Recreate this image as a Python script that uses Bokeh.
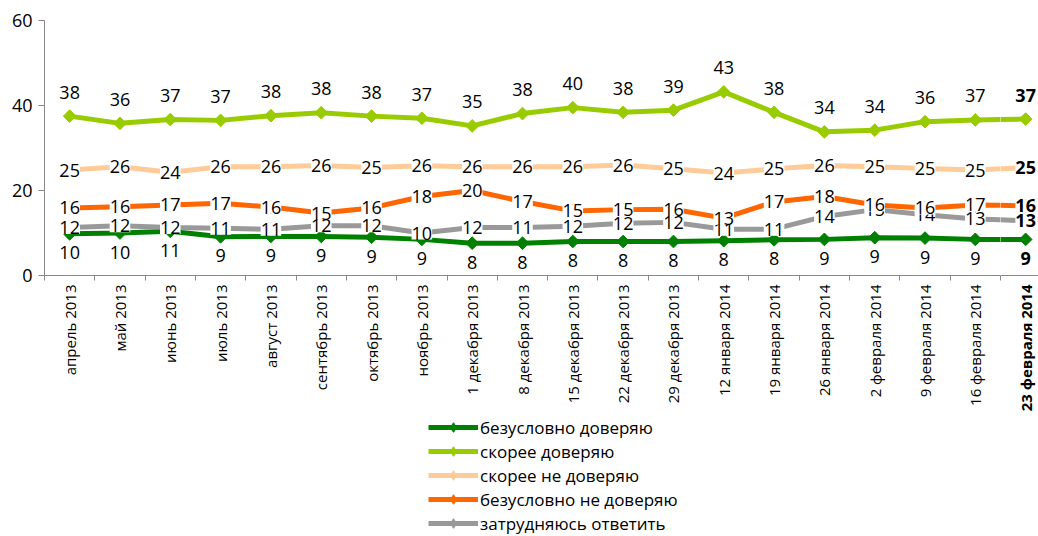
from math import pi
from bokeh.plotting import figure
from bokeh.layouts import column, row
from bokeh.models import FixedTicker, Range1d, Legend, LegendItem, ColumnDataSource
from bokeh.core.properties import value
from bokeh.embed import file_html
from bokeh.resources import INLINE

categories = ["апрель 2013", "май 2013", "июнь 2013", "июль 2013", "август 2013",
              "сентябрь 2013", "октябрь 2013", "ноябрь 2013", "1 декабря 2013",
              "8 декабря 2013", "15 декабря 2013", "22 декабря 2013", "29 декабря 2013",
              "12 января 2014", "19 января 2014", "26 января 2014", "2 февраля 2014",
              "9 февраля 2014", "16 февраля 2014", "23 февраля 2014"]

names = ["безусловно доверяю", "скорее доверяю", "скорее не доверяю",
         "безусловно не доверяю", "затрудняюсь ответить"]

s1_vals = [9.8, 10.0, 10.4, 9.1, 9.2, 9.2, 9.0, 8.5, 7.6, 7.6, 8.0, 8.0, 8.0, 8.2, 8.4, 8.5, 8.9, 8.8, 8.5, 8.5]
s1_labels = ["10", "10", "11", "9", "9", "9", "9", "9", "8", "8", "8", "8", "8", "8", "8", "9", "9", "9", "9", "9"]

s2_vals = [37.5, 35.8, 36.7, 36.5, 37.6, 38.3, 37.5, 37.0, 35.2, 38.1, 39.5, 38.4, 38.9, 43.2, 38.4, 33.8, 34.2, 36.2, 36.6, 36.8]
s2_labels = ["38", "36", "37", "37", "38", "38", "38", "37", "35", "38", "40", "38", "39", "43", "38", "34", "34", "36", "37", "37"]

s3_vals = [24.8, 25.6, 24.3, 25.6, 25.6, 25.9, 25.4, 25.8, 25.6, 25.6, 25.6, 26.0, 25.1, 24.1, 25.1, 25.9, 25.6, 25.2, 24.8, 25.4]
s3_labels = ["25", "26", "24", "26", "26", "26", "25", "26", "26", "26", "26", "26", "25", "24", "25", "26", "25", "25", "25", "25"]

s4_vals = [15.9, 16.2, 16.6, 17.0, 16.1, 14.7, 15.9, 18.6, 20.0, 17.4, 15.2, 15.5, 15.6, 13.5, 17.3, 18.6, 16.6, 15.9, 16.6, 16.4]
s4_labels = ["16", "16", "17", "17", "16", "15", "16", "18", "20", "17", "15", "15", "16", "13", "17", "18", "16", "16", "17", "16"]

s5_vals = [11.3, 11.7, 11.3, 11.1, 10.9, 11.7, 11.7, 10.0, 11.3, 11.3, 11.6, 12.3, 12.5, 10.9, 10.9, 13.9, 15.5, 14.3, 13.3, 12.9]
s5_labels = ["12", "12", "12", "11", "11", "12", "12", "10", "12", "11", "12", "12", "12", "11", "11", "14", "15", "14", "13", "13"]

colors = ["#008000", "#99cc00", "#ffcc99", "#ff6600", "#999999"]

FONT = "Open Sans"
n = len(categories)
xs = list(range(n))
series = [(s1_vals, s1_labels), (s2_vals, s2_labels), (s3_vals, s3_labels),
          (s4_vals, s4_labels), (s5_vals, s5_labels)]

PX = 50.3            # pixels per category
SPLIT = n - 1.5      # the last category is drawn in its own narrow panel
W_A = 1000
W_B = 38
LEFT = 44


def make_panel(width, x_start, x_end, idx, bold, show_y, left):
    f = figure(width=width, height=414, output_backend="svg", toolbar_location=None,
               x_range=Range1d(x_start, x_end), y_range=Range1d(0, 60),
               min_border_left=left, min_border_right=0, min_border_top=20,
               min_border_bottom=138)
    f.outline_line_color = None
    f.xgrid.grid_line_color = None
    f.ygrid.grid_line_color = None

    f.yaxis.visible = show_y
    f.yaxis.ticker = FixedTicker(ticks=[0, 20, 40, 60], minor_ticks=[])
    f.yaxis.axis_line_color = "#888888"
    f.yaxis.major_tick_line_color = "#888888"
    f.yaxis.major_tick_out = 6
    f.yaxis.major_tick_in = 0
    f.yaxis.minor_tick_line_color = None
    f.yaxis.major_label_standoff = 6
    f.yaxis.major_label_text_font = FONT
    f.yaxis.major_label_text_font_size = "18px"
    f.yaxis.major_label_text_color = "black"

    f.xaxis.ticker = FixedTicker(ticks=[xs[i] for i in idx],
                                 minor_ticks=[i - 0.5 for i in range(n + 1)])
    f.xaxis.major_label_overrides = {xs[i]: categories[i] for i in idx}
    f.xaxis.major_label_orientation = pi / 2
    f.xaxis.axis_line_color = "#888888"
    f.xaxis.major_tick_line_color = None
    f.xaxis.major_tick_out = 0
    f.xaxis.major_tick_in = 0
    f.xaxis.minor_tick_line_color = "#888888"
    f.xaxis.minor_tick_out = 5
    f.xaxis.minor_tick_in = 0
    f.xaxis.major_label_standoff = 4
    f.xaxis.major_label_text_font = FONT
    f.xaxis.major_label_text_font_size = "15px"
    f.xaxis.major_label_text_font_style = "bold" if bold else "normal"
    f.xaxis.major_label_text_color = "black"

    for i, (vals, labs) in enumerate(series):
        src = ColumnDataSource(dict(x=xs, y=vals))
        f.line("x", "y", source=src, line_color=colors[i], line_width=5)
        f.scatter("x", "y", source=src, marker="square", angle=pi / 4, size=9,
                  fill_color=colors[i], line_color=colors[i])

    offsets = [19, -24, 0, 0, 0]
    for i in [0, 1, 2, 4, 3]:
        vals, labs = series[i]
        src = ColumnDataSource(dict(x=[xs[k] for k in idx], y=[vals[k] for k in idx],
                                    t=[labs[k] for k in idx]))
        kw = {}
        if offsets[i] == 0:
            kw.update(background_fill_color="white", text_line_height=0.85)
        f.text("x", "y", text="t", source=src, text_align="center",
               text_baseline="middle", y_offset=offsets[i], text_font=value(FONT),
               text_font_size="18px", text_font_style="bold" if bold else "normal",
               text_color="black", **kw)
    return f


pA = make_panel(W_A, -0.5, SPLIT, list(range(n - 1)), False, True, LEFT)
pB = make_panel(W_B, SPLIT, SPLIT + W_B / PX, [n - 1], True, False, 0)

# legend in a separate strip below
p2 = figure(width=1038, height=122, output_backend="svg", toolbar_location=None,
            x_range=Range1d(0, 1), y_range=Range1d(0, 1),
            min_border_left=0, min_border_right=0, min_border_top=0,
            min_border_bottom=0)
p2.axis.visible = False
p2.grid.grid_line_color = None
p2.outline_line_color = None
items = []
for i, (vals, labs) in enumerate(series):
    src = ColumnDataSource(dict(x=xs, y=vals))
    lr = p2.line("x", "y", source=src, line_color=colors[i], line_width=5)
    sr = p2.scatter("x", "y", source=src, marker="diamond", size=15,
                    fill_color=colors[i], line_color=colors[i])
    items.append(LegendItem(label=names[i], renderers=[lr, sr]))

legend = Legend(items=items, location=(428, 1), orientation="vertical",
                glyph_width=50, glyph_height=24, label_height=24, spacing=0,
                padding=0, margin=0, label_standoff=2,
                label_text_font=FONT, label_text_font_size="17px",
                label_text_color="black", border_line_color=None,
                background_fill_alpha=0)
p2.add_layout(legend, "center")

layout = column(row(pA, pB, spacing=0), p2, spacing=0)
open("out.html", "w").write(file_html(layout, INLINE))
